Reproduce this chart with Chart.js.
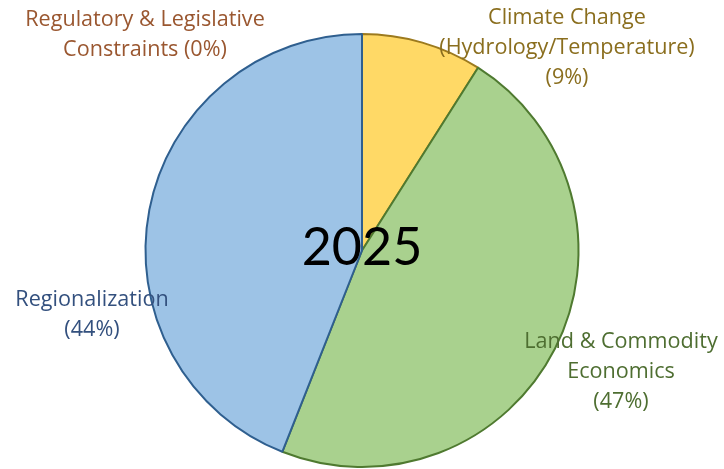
<!DOCTYPE html>
<html>
<head>
<meta charset="utf-8">
<script src="https://cdn.jsdelivr.net/npm/chart.js@4/dist/chart.umd.min.js"></script>
<style>
html,body{margin:0;padding:0;background:#fff;}
#wrap{width:724px;height:469px;position:relative;}
</style>
</head>
<body>
<div id="wrap"><canvas id="c" width="724" height="469"></canvas></div>
<script>
// Data
const categories = ["Climate Change (Hydrology/Temperature)", "Land & Commodity Economics", "Regionalization", "Regulatory & Legislative Constraints"];
const shares = [9, 47, 44, 0];
const labelLines = [
  ["Climate Change", "(Hydrology/Temperature)", "(9%)"],
  ["Land & Commodity", "Economics", "(47%)"],
  ["Regionalization", "(44%)"],
  ["Regulatory & Legislative", "Constraints (0%)"]
];
const centerTitle = "2025";

// Styles / layout
const fillColors = ["#FFD966", "#A9D18E", "#9DC3E6", "#F4B183"];
const borderColors = ["#9C7A1E", "#4F7A30", "#2F5F8F", "#A0522D"];
const textColors = ["#8A6E1E", "#4E6E31", "#33507E", "#9A5730"];
const labelAnchors = [[567, 18], [621, 342], [92, 300], [145, 20]];
const lineGap = 30;

const labelPlugin = {
  id: 'labels',
  afterDatasetsDraw(chart) {
    const ctx = chart.ctx;
    ctx.save();
    ctx.textAlign = 'center';
    ctx.textBaseline = 'middle';
    ctx.font = '21.6px "Open Sans", sans-serif';
    labelLines.forEach((lines, i) => {
      ctx.fillStyle = textColors[i];
      lines.forEach((t, j) => {
        ctx.fillText(t, labelAnchors[i][0], labelAnchors[i][1] + j * lineGap);
      });
    });
    const meta = chart.getDatasetMeta(0);
    const arc = meta.data[0];
    ctx.fillStyle = '#000';
    ctx.font = '52px Lato, "Open Sans", sans-serif';
    ctx.fillText(centerTitle, arc.x, arc.y - 2);
    ctx.restore();
  }
};

new Chart(document.getElementById('c'), {
  type: 'pie',
  data: {
    labels: categories,
    datasets: [{
      data: shares,
      backgroundColor: fillColors,
      borderColor: borderColors,
      borderWidth: 2,
      borderAlign: 'center'
    }]
  },
  options: {
    responsive: false,
    animation: false,
    layout: { padding: { top: 33, bottom: 1, left: 0, right: 0 } },
    plugins: { legend: { display: false }, tooltip: { enabled: false } }
  },
  plugins: [labelPlugin]
});
</script>
</body>
</html>
